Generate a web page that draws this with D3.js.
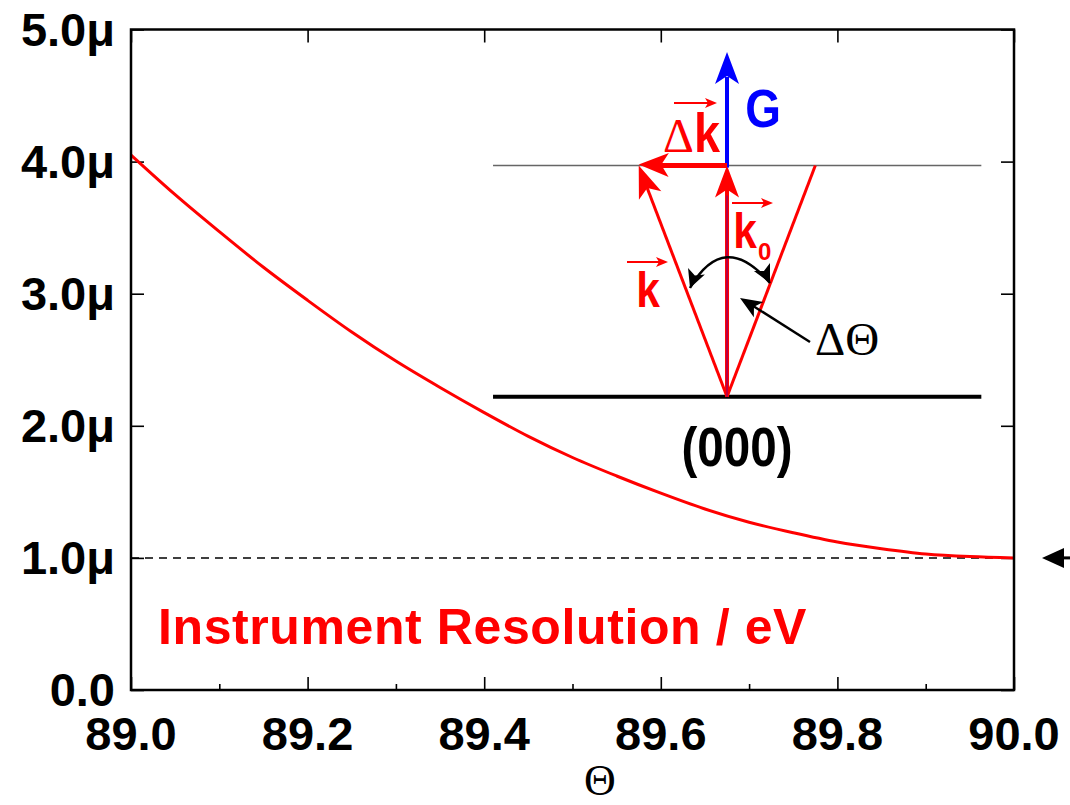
<!DOCTYPE html>
<html>
<head>
<meta charset="utf-8">
<script src="https://cdn.jsdelivr.net/npm/d3@7"></script>
<style>
  html, body { margin: 0; padding: 0; background: #fff; }
  svg { display: block; }
  text { font-family: "Liberation Sans", Arial, sans-serif; }
  text.serif { font-family: "Liberation Serif", "Times New Roman", serif; }
</style>
</head>
<body>
<svg id="chart" width="1070" height="805"></svg>
<script>
// Instrument resolution (eV) versus incidence angle Θ (degrees)
const theta = [89.00, 89.05, 89.10, 89.15, 89.20, 89.25, 89.30, 89.35, 89.40, 89.45,
               89.50, 89.55, 89.60, 89.65, 89.70, 89.75, 89.80, 89.85, 89.90, 89.95, 90.00];
const resolution = [4.05, 3.75, 3.47, 3.20, 2.95, 2.71, 2.49, 2.29, 2.10, 1.92,
                    1.76, 1.62, 1.49, 1.37, 1.27, 1.19, 1.12, 1.07, 1.03, 1.01, 1.00];
const referenceLevel = 1.0;           // dashed limit line
const xTickValues = [89.0, 89.2, 89.4, 89.6, 89.8, 90.0];
const xTickLabels = ["89.0", "89.2", "89.4", "89.6", "89.8", "90.0"];
const xMinorTicks = [89.1, 89.3, 89.5, 89.7, 89.9];
const yTickValues = [0, 1, 2, 3, 4, 5];
const yTickLabels = ["0.0", "1.0μ", "2.0μ", "3.0μ", "4.0μ", "5.0μ"];

const svg = d3.select("#chart");
const plotL = 131, plotR = 1014, plotT = 29.5, plotB = 690;
const x = d3.scaleLinear().domain([89, 90]).range([plotL, plotR]);
const y = d3.scaleLinear().domain([0, 5]).range([plotB, plotT]);
const RED = "#ff0000", BLUE = "#0000ff";

// ---- axes: ticks pointing inward on all four sides ----
const gAx = svg.append("g");
gAx.append("g").attr("transform", `translate(0,${plotB})`)
  .call(d3.axisTop(x).tickValues(xTickValues).tickSize(13).tickFormat(""))
  .call(g => g.select(".domain").remove());
gAx.append("g").attr("transform", `translate(0,${plotB})`)
  .call(d3.axisTop(x).tickValues(xMinorTicks).tickSize(6).tickFormat(""))
  .call(g => g.select(".domain").remove());
gAx.append("g").attr("transform", `translate(0,${plotT})`)
  .call(d3.axisBottom(x).tickValues(xTickValues).tickSize(13).tickFormat(""))
  .call(g => g.select(".domain").remove());
gAx.append("g").attr("transform", `translate(${plotL},0)`)
  .call(d3.axisRight(y).tickValues(yTickValues).tickSize(13).tickFormat(""))
  .call(g => g.select(".domain").remove());
gAx.append("g").attr("transform", `translate(${plotR},0)`)
  .call(d3.axisLeft(y).tickValues(yTickValues).tickSize(13).tickFormat(""))
  .call(g => g.select(".domain").remove());
gAx.selectAll(".tick line").attr("stroke", "#000").attr("stroke-width", 1.6);

// tick labels
svg.append("g").selectAll("text").data(xTickValues).join("text")
  .attr("x", d => x(d)).attr("y", 750)
  .attr("text-anchor", "middle")
  .attr("font-size", 47).attr("font-weight", "bold")
  .text((d, i) => xTickLabels[i]);
svg.append("g").selectAll("text").data(yTickValues).join("text")
  .attr("x", 115).attr("y", d => y(d) + 16)
  .attr("text-anchor", "end")
  .attr("font-size", 47).attr("font-weight", "bold")
  .text((d, i) => yTickLabels[i]);

// axis title
svg.append("text").attr("class", "serif").attr("x", 600).attr("y", 795)
  .attr("text-anchor", "middle")
  .attr("font-size", 44).text("Θ");

// ---- dashed reference level ----
svg.append("line")
  .attr("x1", x(89)).attr("x2", x(90))
  .attr("y1", y(referenceLevel)).attr("y2", y(referenceLevel))
  .attr("stroke", "#000").attr("stroke-width", 1.5)
  .attr("stroke-dasharray", "8,6");

// ---- resolution curve ----
const pts = theta.map((t, i) => [t, resolution[i]]);
svg.append("path").datum(pts)
  .attr("fill", "none").attr("stroke", RED).attr("stroke-width", 3)
  .attr("d", d3.line().x(d => x(d[0])).y(d => y(d[1])).curve(d3.curveMonotoneX));

// frame
svg.append("rect").attr("x", plotL).attr("y", plotT)
  .attr("width", plotR - plotL).attr("height", plotB - plotT)
  .attr("fill", "none").attr("stroke", "#000").attr("stroke-width", 2.5);

// legend text
svg.append("text").attr("x", 158).attr("y", 644)
  .attr("font-size", 50).attr("font-weight", "bold").attr("fill", RED)
  .attr("letter-spacing", 0.6)
  .text("Instrument Resolution / eV");

// ---- helpers for arrows ----
function head(g, tip, from, len, halfW, color) {
  const dx = tip[0] - from[0], dy = tip[1] - from[1];
  const L = Math.hypot(dx, dy), ux = dx / L, uy = dy / L;
  const bx = tip[0] - ux * len, by = tip[1] - uy * len;
  g.append("path")
    .attr("d", `M${tip[0]},${tip[1]}L${bx - uy * halfW},${by + ux * halfW}` +
               `L${bx + ux * len * 0.25},${by + uy * len * 0.25}` +
               `L${bx + uy * halfW},${by - ux * halfW}Z`)
    .attr("fill", color);
}
function segment(g, a, b, color, w) {
  return g.append("line").attr("x1", a[0]).attr("y1", a[1]).attr("x2", b[0]).attr("y2", b[1])
    .attr("stroke", color).attr("stroke-width", w);
}
const P = (t, v) => [x(t), y(v)];

// ---- scattering geometry sketch ----
const gD = svg.append("g");
const origin = P(89.675, 2.22);
const levelV = 3.97;
const kTip = P(89.575, levelV);
const k0Tip = P(89.675, levelV);
const rightTop = P(89.775, levelV);
const gTip = P(89.675, 4.83);

// reference lines
segment(gD, P(89.41, levelV), P(89.963, levelV), "#666", 1.5);
segment(gD, P(89.41, 2.22), P(89.963, 2.22), "#000", 4);

// cone edges and wave vectors
segment(gD, origin, rightTop, RED, 3);
segment(gD, origin, [kTip[0] + 6, kTip[1] + 16], RED, 3);
head(gD, kTip, origin, 32, 12, RED);
segment(gD, origin, [k0Tip[0], k0Tip[1] + 20], RED, 4);
head(gD, k0Tip, origin, 32, 12, RED);
segment(gD, origin, [k0Tip[0], k0Tip[1] + 30], BLUE, 1.2).attr("opacity", 0.45);

// G vector
segment(gD, [k0Tip[0], k0Tip[1] + 2], [gTip[0], gTip[1] + 25], BLUE, 4);
head(gD, gTip, k0Tip, 32, 12, BLUE);

// Δk vector
segment(gD, k0Tip, [kTip[0] + 20, kTip[1]], RED, 5);
head(gD, [kTip[0], kTip[1] - 1], k0Tip, 30, 12, RED);

// angle arc with two heads
const arcA = [690, 288], arcB = [770, 283], arcC = [724, 229];
gD.append("path")
  .attr("d", `M${arcA[0]},${arcA[1]}Q${arcC[0]},${arcC[1]} ${arcB[0]},${arcB[1]}`)
  .attr("fill", "none").attr("stroke", "#000").attr("stroke-width", 2.5);
head(gD, arcA, [700, 262], 18, 9, "#000");
head(gD, arcB, [757, 257], 18, 9, "#000");

// pointer to the angle
const ptrTail = [810, 342], ptrTip = [740, 298];
segment(gD, ptrTail, [750, 304], "#000", 2.5);
head(gD, ptrTip, ptrTail, 22, 9, "#000");

// labels of the sketch
function overArrow(x1, x2, yy) {
  segment(gD, [x1, yy], [x2 - 8, yy], RED, 2);
  head(gD, [x2, yy], [x1, yy], 12, 5, RED);
}
function boldLabel(txt, cx, base, size, color) {
  return gD.append("text")
    .attr("transform", `translate(${cx},${base}) scale(0.85,1)`)
    .attr("text-anchor", "middle")
    .attr("font-size", size).attr("font-weight", "bold").attr("fill", color)
    .text(txt);
}
// Δk
gD.append("text").attr("class", "serif").attr("x", 663).attr("y", 152)
  .attr("font-size", 48).attr("fill", RED).text("Δ");
boldLabel("k", 707, 152, 55, RED);
overArrow(674, 717, 103);
// G
boldLabel("G", 763, 127, 54, BLUE);
// k0
boldLabel("k", 745, 248, 50, RED);
gD.append("text").attr("x", 758).attr("y", 260)
  .attr("font-size", 24).attr("font-weight", "bold").attr("fill", RED).text("0");
overArrow(732, 773, 203);
// k
boldLabel("k", 648, 307, 50, RED);
overArrow(627, 668, 262);
// ΔΘ
gD.append("text").attr("class", "serif").attr("x", 815).attr("y", 355)
  .attr("font-size", 47).attr("fill", "#000").text("ΔΘ");
// (000)
boldLabel("(000)", 737, 466, 56, "#000");

// marker arrow just outside the right axis at the reference level
const mY = y(referenceLevel);
svg.append("path")
  .attr("d", `M1042,${mY}L1064,${mY - 10}L1064,${mY + 10}Z`).attr("fill", "#000");
segment(svg, [1062, mY], [1070, mY], "#000", 3);
</script>
</body>
</html>
